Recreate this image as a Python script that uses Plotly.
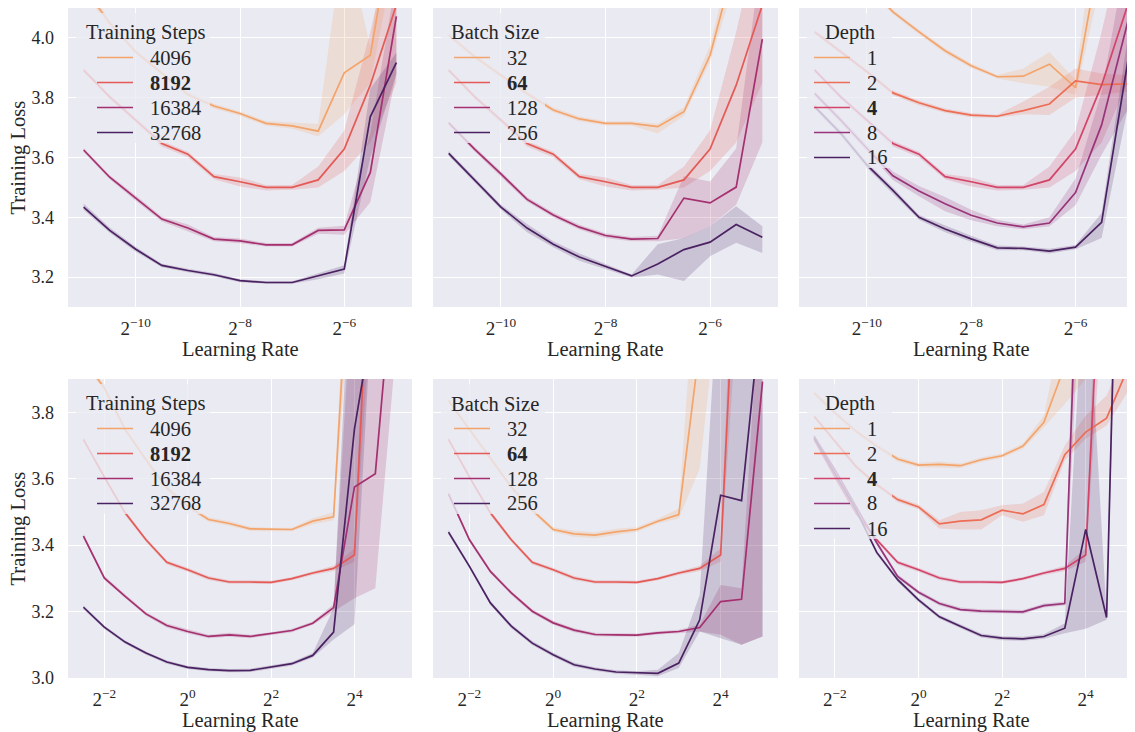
import math
import plotly.graph_objects as go

# ---------------- data ----------------
top_exp = [-11, -10.5, -10, -9.5, -9, -8.5, -8, -7.5, -7, -6.5, -6, -5.5, -5]
bot_exp = [-2.5, -2, -1.5, -1, -0.5, 0, 0.5, 1, 1.5, 2, 2.5, 3, 3.5, 4, 4.5, 5]

top_xticks = [-10, -8, -6]
bot_xticks = [-2, 0, 2, 4]
top_yticks = [3.2, 3.4, 3.6, 3.8, 4.0]
bot_yticks = [3.0, 3.2, 3.4, 3.6, 3.8]

# --- top row: Training Steps ---
ts4096_y = [4.17, 4.05, 3.953, 3.881, 3.811, 3.772, 3.747, 3.714, 3.706, 3.688, 3.883, 3.942, 4.45]
ts4096_lo = [4.15, 4.04, 3.945, 3.873, 3.803, 3.764, 3.740, 3.706, 3.696, 3.670, 3.745, 3.850, 4.30]
ts4096_hi = [4.19, 4.06, 3.961, 3.889, 3.819, 3.780, 3.754, 3.722, 3.716, 3.712, 4.350, 3.970, 4.60]

ts8192_y = [3.892, 3.803, 3.725, 3.647, 3.611, 3.536, 3.519, 3.500, 3.500, 3.525, 3.628, 3.842, 4.11]
ts8192_lo = [3.885, 3.795, 3.717, 3.637, 3.601, 3.527, 3.503, 3.490, 3.492, 3.500, 3.555, 3.650, 3.85]
ts8192_hi = [3.899, 3.811, 3.733, 3.655, 3.619, 3.545, 3.533, 3.508, 3.508, 3.570, 3.690, 4.020, 4.40]

ts16384_y = [3.625, 3.534, 3.464, 3.394, 3.364, 3.327, 3.321, 3.308, 3.308, 3.356, 3.358, 3.550, 4.072]
ts16384_lo = [3.618, 3.527, 3.455, 3.386, 3.352, 3.320, 3.313, 3.302, 3.302, 3.345, 3.342, 3.450, 3.88]
ts16384_hi = [3.632, 3.541, 3.473, 3.402, 3.376, 3.334, 3.329, 3.314, 3.314, 3.365, 3.372, 3.680, 4.20]

ts32768_y = [3.434, 3.356, 3.293, 3.239, 3.222, 3.208, 3.188, 3.182, 3.182, 3.204, 3.227, 3.736, 3.917]
ts32768_lo = [3.424, 3.348, 3.285, 3.233, 3.216, 3.202, 3.183, 3.178, 3.178, 3.193, 3.212, 3.600, 3.88]
ts32768_hi = [3.446, 3.366, 3.301, 3.245, 3.228, 3.214, 3.193, 3.186, 3.186, 3.214, 3.240, 3.830, 3.95]

# --- top row: Batch Size ---
bs32_y = [4.009, 3.937, 3.875, 3.814, 3.759, 3.729, 3.714, 3.714, 3.703, 3.753, 3.942, 4.276, 4.60]
bs32_lo = [4.000, 3.930, 3.867, 3.806, 3.751, 3.721, 3.707, 3.707, 3.680, 3.740, 3.920, 4.200, 4.50]
bs32_hi = [4.018, 3.944, 3.883, 3.822, 3.767, 3.737, 3.721, 3.721, 3.713, 3.768, 3.975, 4.350, 4.70]

bs128_y = [3.716, 3.627, 3.545, 3.460, 3.408, 3.367, 3.339, 3.327, 3.329, 3.464, 3.448, 3.501, 3.996]
bs128_lo = [3.709, 3.619, 3.537, 3.452, 3.400, 3.359, 3.331, 3.320, 3.320, 3.330, 3.370, 3.442, 3.65]
bs128_hi = [3.723, 3.635, 3.553, 3.468, 3.416, 3.375, 3.347, 3.334, 3.338, 3.537, 3.520, 3.630, 4.30]

bs256_y = [3.614, 3.525, 3.434, 3.364, 3.310, 3.267, 3.236, 3.204, 3.244, 3.292, 3.317, 3.376, 3.333]
bs256_lo = [3.606, 3.517, 3.426, 3.350, 3.300, 3.255, 3.228, 3.199, 3.209, 3.187, 3.270, 3.315, 3.281]
bs256_hi = [3.622, 3.533, 3.442, 3.378, 3.320, 3.279, 3.244, 3.209, 3.310, 3.331, 3.370, 3.437, 3.370]

# --- top row: Depth ---
d1_y = [4.45, 4.30, 4.18, 4.087, 4.020, 3.957, 3.907, 3.870, 3.872, 3.912, 3.834, 4.379, 4.80]
d1_lo = [4.44, 4.29, 4.17, 4.079, 4.012, 3.949, 3.899, 3.864, 3.848, 3.837, 3.809, 4.200, 4.60]
d1_hi = [4.46, 4.31, 4.19, 4.095, 4.028, 3.965, 3.915, 3.876, 3.898, 3.953, 3.859, 4.550, 5.00]

d2_y = [4.020, 3.953, 3.887, 3.816, 3.783, 3.757, 3.742, 3.738, 3.757, 3.779, 3.856, 3.844, 3.846]
d2_lo = [4.012, 3.945, 3.879, 3.808, 3.775, 3.750, 3.735, 3.733, 3.745, 3.742, 3.800, 3.809, 3.820]
d2_hi = [4.028, 3.961, 3.895, 3.824, 3.791, 3.764, 3.749, 3.743, 3.787, 3.837, 3.898, 3.881, 3.876]

d8_y = [3.814, 3.725, 3.631, 3.539, 3.488, 3.445, 3.407, 3.381, 3.368, 3.381, 3.483, 3.709, 4.053]
d8_lo = [3.805, 3.715, 3.620, 3.525, 3.470, 3.420, 3.390, 3.370, 3.360, 3.370, 3.440, 3.609, 3.76]
d8_hi = [3.823, 3.735, 3.642, 3.553, 3.505, 3.468, 3.425, 3.392, 3.376, 3.400, 3.530, 3.820, 4.30]

d16_y = [3.770, 3.681, 3.575, 3.490, 3.400, 3.361, 3.328, 3.298, 3.296, 3.287, 3.300, 3.383, 3.920]
d16_lo = [3.762, 3.672, 3.566, 3.480, 3.392, 3.350, 3.318, 3.290, 3.290, 3.279, 3.293, 3.331, 3.764]
d16_hi = [3.778, 3.690, 3.584, 3.500, 3.408, 3.372, 3.338, 3.306, 3.302, 3.295, 3.307, 3.414, 4.000]

# --- bottom row: Training Steps ---
tsb4096_y = [3.960, 3.873, 3.748, 3.657, 3.572, 3.517, 3.477, 3.465, 3.449, 3.447, 3.447, 3.472, 3.485, 4.56, 5.00, 5.40]
tsb4096_lo = [3.950, 3.865, 3.740, 3.650, 3.565, 3.510, 3.470, 3.458, 3.443, 3.442, 3.442, 3.463, 3.475, 4.30, 4.80, 5.20]
tsb4096_hi = [3.970, 3.881, 3.756, 3.664, 3.579, 3.524, 3.484, 3.472, 3.455, 3.452, 3.452, 3.481, 3.500, 4.80, 5.20, 5.60]

tsb8192_y = [3.718, 3.605, 3.497, 3.416, 3.348, 3.326, 3.301, 3.289, 3.289, 3.288, 3.299, 3.316, 3.330, 3.370, 4.67, 5.20]
tsb8192_lo = [3.712, 3.599, 3.490, 3.410, 3.342, 3.320, 3.295, 3.284, 3.284, 3.283, 3.294, 3.310, 3.322, 3.350, 4.30, 4.80]
tsb8192_hi = [3.724, 3.611, 3.504, 3.422, 3.354, 3.332, 3.307, 3.294, 3.294, 3.293, 3.304, 3.322, 3.338, 3.390, 5.00, 5.60]

tsb16384_y = [3.427, 3.301, 3.246, 3.193, 3.158, 3.140, 3.125, 3.130, 3.125, 3.133, 3.143, 3.165, 3.212, 3.575, 3.615, 4.33]
tsb16384_lo = [3.420, 3.295, 3.240, 3.187, 3.152, 3.134, 3.120, 3.124, 3.120, 3.128, 3.138, 3.160, 3.200, 3.240, 3.270, 4.00]
tsb16384_hi = [3.434, 3.307, 3.252, 3.199, 3.164, 3.146, 3.130, 3.136, 3.130, 3.138, 3.148, 3.170, 3.222, 4.300, 4.500, 4.80]

tsb32768_y = [3.213, 3.153, 3.108, 3.075, 3.048, 3.032, 3.025, 3.022, 3.023, 3.032, 3.043, 3.068, 3.138, 3.750, 4.17, 4.50]
tsb32768_lo = [3.207, 3.148, 3.103, 3.070, 3.043, 3.027, 3.020, 3.017, 3.018, 3.027, 3.038, 3.062, 3.116, 3.162, 4.30, 4.40]
tsb32768_hi = [3.219, 3.158, 3.113, 3.080, 3.053, 3.037, 3.030, 3.027, 3.028, 3.037, 3.048, 3.075, 3.210, 4.500, 4.60, 4.80]

# --- bottom row: Batch Size ---
bsb32_y = [3.835, 3.749, 3.662, 3.575, 3.505, 3.447, 3.434, 3.430, 3.440, 3.447, 3.472, 3.492, 4.00, 4.50, 5.00, 5.50]
bsb32_lo = [3.828, 3.742, 3.655, 3.568, 3.498, 3.440, 3.425, 3.421, 3.431, 3.440, 3.465, 3.480, 3.63, 4.20, 4.80, 5.30]
bsb32_hi = [3.842, 3.756, 3.669, 3.582, 3.512, 3.454, 3.443, 3.439, 3.449, 3.454, 3.479, 3.510, 4.40, 4.80, 5.20, 5.70]

bsb128_y = [3.554, 3.416, 3.321, 3.256, 3.201, 3.166, 3.144, 3.131, 3.130, 3.129, 3.136, 3.140, 3.152, 3.230, 3.237, 3.892]
bsb128_lo = [3.547, 3.410, 3.315, 3.250, 3.195, 3.160, 3.138, 3.126, 3.125, 3.124, 3.131, 3.135, 3.140, 3.130, 3.100, 3.125]
bsb128_hi = [3.561, 3.422, 3.327, 3.262, 3.207, 3.172, 3.150, 3.136, 3.135, 3.134, 3.141, 3.145, 3.160, 3.280, 3.270, 4.300]

bsb256_y = [3.439, 3.336, 3.226, 3.156, 3.105, 3.070, 3.040, 3.027, 3.018, 3.015, 3.014, 3.045, 3.175, 3.550, 3.534, 4.15]
bsb256_lo = [3.432, 3.330, 3.220, 3.150, 3.099, 3.064, 3.034, 3.022, 3.013, 3.010, 3.005, 3.030, 3.140, 3.120, 3.100, 3.125]
bsb256_hi = [3.446, 3.342, 3.232, 3.162, 3.111, 3.076, 3.046, 3.032, 3.023, 3.020, 3.025, 3.075, 3.250, 4.300, 4.600, 5.000]

# --- bottom row: Depth ---
db1_y = [3.858, 3.798, 3.743, 3.698, 3.659, 3.641, 3.643, 3.639, 3.657, 3.669, 3.698, 3.770, 3.940, 4.20, 4.50, 4.80]
db1_lo = [3.851, 3.791, 3.736, 3.691, 3.652, 3.634, 3.634, 3.632, 3.650, 3.662, 3.690, 3.755, 3.825, 3.90, 4.10, 4.40]
db1_hi = [3.865, 3.805, 3.750, 3.705, 3.666, 3.648, 3.652, 3.646, 3.664, 3.676, 3.706, 3.790, 4.100, 4.50, 4.80, 5.10]

db2_y = [3.788, 3.713, 3.637, 3.582, 3.537, 3.515, 3.464, 3.472, 3.476, 3.505, 3.494, 3.522, 3.672, 3.740, 3.782, 3.930]
db2_lo = [3.781, 3.706, 3.630, 3.575, 3.530, 3.508, 3.450, 3.447, 3.447, 3.490, 3.470, 3.490, 3.655, 3.720, 3.760, 3.860]
db2_hi = [3.795, 3.720, 3.644, 3.589, 3.544, 3.522, 3.475, 3.500, 3.505, 3.520, 3.525, 3.560, 3.700, 3.790, 3.850, 4.000]

db8_y = [3.728, 3.627, 3.517, 3.407, 3.306, 3.258, 3.224, 3.206, 3.201, 3.201, 3.199, 3.218, 3.224, 4.98, 5.50, 6.00]
db8_lo = [3.722, 3.621, 3.511, 3.401, 3.300, 3.252, 3.218, 3.200, 3.195, 3.195, 3.193, 3.212, 3.218, 4.50, 5.20, 5.70]
db8_hi = [3.734, 3.633, 3.523, 3.413, 3.312, 3.264, 3.230, 3.212, 3.207, 3.207, 3.205, 3.224, 3.230, 5.40, 5.80, 6.30]

db16_y = [3.723, 3.617, 3.507, 3.378, 3.296, 3.235, 3.184, 3.156, 3.128, 3.120, 3.118, 3.125, 3.150, 3.447, 3.182, 5.66]
db16_lo = [3.717, 3.611, 3.501, 3.372, 3.290, 3.229, 3.178, 3.150, 3.122, 3.114, 3.112, 3.118, 3.135, 3.148, 3.175, 5.30]
db16_hi = [3.729, 3.623, 3.513, 3.384, 3.302, 3.241, 3.190, 3.162, 3.134, 3.126, 3.124, 3.132, 3.165, 4.300, 3.190, 6.00]

# ---------------- style ----------------
C_ORANGE = "#F3A46B"
C_RED = "#E35A56"
C_MAGENTA = "#A4306F"
C_DARK = "#4A2262"
C_D2 = "#EC6E56"
C_D4 = "#D24468"
C_D8 = "#983479"

FONT = "Liberation Serif, Times New Roman, serif"
TXT = "#262626"
W, H = 1135, 732
OFF = 8  # page body margin of the browser
TSIZE = 20.5

# panel boxes in window pixels
col_px = [(68, 412), (433, 778), (799, 1135)]
row_px = [(8, 307), (379, 678)]
top_xrange = [(-11.3, -4.7), (-11.3, -4.7), (-11.3, -4.86)]
bot_xrange = [(-2.87, 5.38), (-2.87, 5.37), (-2.86, 5.18)]

# legend geometry (panel-relative px): box right, handle x0, text x, title x
legend_geom = {
    "Training Steps": dict(box_r=142, h0=29, tx=80, ttl=16),
    "Batch Size": dict(box_r=112, h0=21, tx=72, ttl=16),
    "Depth": dict(box_r=93, h0=15, tx=66, ttl=24),
}


def rgba(hexc, a):
    hexc = hexc.lstrip("#")
    r, g, b = int(hexc[0:2], 16), int(hexc[2:4], 16), int(hexc[4:6], 16)
    return f"rgba({r},{g},{b},{a})"


def px(xw):
    return (xw - OFF) / W


def py(yw):
    return 1 - (yw - OFF) / H


panels = [
    ("Training Steps", top_exp, [
        ("4096", C_ORANGE, ts4096_y, ts4096_lo, ts4096_hi),
        ("<b>8192</b>", C_RED, ts8192_y, ts8192_lo, ts8192_hi),
        ("16384", C_MAGENTA, ts16384_y, ts16384_lo, ts16384_hi),
        ("32768", C_DARK, ts32768_y, ts32768_lo, ts32768_hi)]),
    ("Batch Size", top_exp, [
        ("32", C_ORANGE, bs32_y, bs32_lo, bs32_hi),
        ("<b>64</b>", C_RED, ts8192_y, ts8192_lo, ts8192_hi),
        ("128", C_MAGENTA, bs128_y, bs128_lo, bs128_hi),
        ("256", C_DARK, bs256_y, bs256_lo, bs256_hi)]),
    ("Depth", top_exp, [
        ("1", C_ORANGE, d1_y, d1_lo, d1_hi),
        ("2", C_D2, d2_y, d2_lo, d2_hi),
        ("<b>4</b>", C_D4, ts8192_y, ts8192_lo, ts8192_hi),
        ("8", C_D8, d8_y, d8_lo, d8_hi),
        ("16", C_DARK, d16_y, d16_lo, d16_hi)]),
    ("Training Steps", bot_exp, [
        ("4096", C_ORANGE, tsb4096_y, tsb4096_lo, tsb4096_hi),
        ("<b>8192</b>", C_RED, tsb8192_y, tsb8192_lo, tsb8192_hi),
        ("16384", C_MAGENTA, tsb16384_y, tsb16384_lo, tsb16384_hi),
        ("32768", C_DARK, tsb32768_y, tsb32768_lo, tsb32768_hi)]),
    ("Batch Size", bot_exp, [
        ("32", C_ORANGE, bsb32_y, bsb32_lo, bsb32_hi),
        ("<b>64</b>", C_RED, tsb8192_y, tsb8192_lo, tsb8192_hi),
        ("128", C_MAGENTA, bsb128_y, bsb128_lo, bsb128_hi),
        ("256", C_DARK, bsb256_y, bsb256_lo, bsb256_hi)]),
    ("Depth", bot_exp, [
        ("1", C_ORANGE, db1_y, db1_lo, db1_hi),
        ("2", C_D2, db2_y, db2_lo, db2_hi),
        ("<b>4</b>", C_D4, tsb8192_y, tsb8192_lo, tsb8192_hi),
        ("8", C_D8, db8_y, db8_lo, db8_hi),
        ("16", C_DARK, db16_y, db16_lo, db16_hi)]),
]

fig = go.Figure()
layout = dict(
    width=W, height=H,
    margin=dict(l=0, r=0, t=0, b=0),
    paper_bgcolor="white", plot_bgcolor="#EAEAF2",
    font=dict(family=FONT, size=18, color=TXT),
    showlegend=False,
    annotations=[], shapes=[],
)
L2 = math.log10(2)

for k, (title, exps, series) in enumerate(panels):
    idx = k + 1
    row, col = divmod(k, 3)
    xs = [2 ** e for e in exps]
    xa = "x" if idx == 1 else f"x{idx}"
    ya = "y" if idx == 1 else f"y{idx}"
    # confidence bands first (below all lines)
    for name, c, y, lo, hi in series:
        fig.add_trace(go.Scatter(
            x=xs + xs[::-1], y=hi + lo[::-1], fill="toself",
            fillcolor=rgba(c, 0.2), line=dict(width=0), mode="lines",
            hoverinfo="skip", showlegend=False, xaxis=xa, yaxis=ya))
    for name, c, y, lo, hi in series:
        fig.add_trace(go.Scatter(
            x=xs, y=y, mode="lines", name=name,
            line=dict(color=c, width=1.7), xaxis=xa, yaxis=ya))

    x0, x1 = col_px[col]
    y0, y1 = row_px[row]
    xr = top_xrange[col] if row == 0 else bot_xrange[col]
    xt = top_xticks if row == 0 else bot_xticks
    yt = top_yticks if row == 0 else bot_yticks
    yr = [3.1, 4.1] if row == 0 else [3.0, 3.9]
    layout["xaxis" if idx == 1 else f"xaxis{idx}"] = dict(
        type="log", domain=[px(x0), min(1.0, px(x1))], anchor=ya,
        range=[xr[0] * L2, xr[1] * L2],
        tickvals=[2 ** t for t in xt],
        ticktext=[f"2<sup>{'−' if t < 0 else ''}{abs(t)}</sup>" for t in xt],
        showgrid=True, gridcolor="white", gridwidth=1.3,
        zeroline=False, showline=False, ticks="", automargin=False,
        tickfont=dict(family=FONT, size=19, color=TXT), ticklabelstandoff=8)
    layout["yaxis" if idx == 1 else f"yaxis{idx}"] = dict(
        domain=[py(y1), py(y0)], anchor=xa, range=yr,
        tickvals=yt, ticktext=[f"{v:.1f}" for v in yt],
        showticklabels=(col == 0),
        showgrid=True, gridcolor="white", gridwidth=1.3,
        zeroline=False, showline=False, ticks="", automargin=False,
        tickfont=dict(family=FONT, size=18, color=TXT), ticklabelstandoff=13)

    # ---- legend (box, handles, labels) ----
    g = legend_geom[title]
    n = len(series)
    layout["shapes"].append(dict(
        type="rect", xref="paper", yref="paper", layer="above",
        x0=px(x0 + 8), x1=px(x0 + g["box_r"]),
        y0=py(y0 + 10 + 25 * n + 25), y1=py(y0 + 5),
        fillcolor="rgba(234,234,242,0.8)", line=dict(width=0)))
    layout["annotations"].append(dict(
        text=title, x=px(x0 + g["ttl"]), y=py(y0 + 24.5), xref="paper", yref="paper",
        xanchor="left", yanchor="middle", showarrow=False,
        font=dict(family=FONT, size=TSIZE, color=TXT)))
    for i, (name, c, y, lo, hi) in enumerate(series):
        ey = y0 + 49.5 + 25 * i
        layout["shapes"].append(dict(
            type="line", xref="paper", yref="paper", layer="above",
            x0=px(x0 + g["h0"]), x1=px(x0 + g["h0"] + 36), y0=py(ey), y1=py(ey),
            line=dict(color=c, width=1.7)))
        layout["annotations"].append(dict(
            text=name, x=px(x0 + g["tx"]), y=py(ey), xref="paper", yref="paper",
            xanchor="left", yanchor="middle", showarrow=False,
            font=dict(family=FONT, size=TSIZE, color=TXT)))

    layout["annotations"].append(dict(
        text="Learning Rate", x=px(x0 + 172), y=py(y1 + 42),
        xref="paper", yref="paper", xanchor="center", yanchor="middle",
        showarrow=False, font=dict(family=FONT, size=TSIZE, color=TXT)))
    if col == 0:
        layout["annotations"].append(dict(
            text="Training Loss", x=px(18), y=py((y0 + y1) / 2),
            xref="paper", yref="paper", xanchor="center", yanchor="middle",
            textangle=-90, showarrow=False,
            font=dict(family=FONT, size=TSIZE, color=TXT)))

fig.update_layout(**layout)
fig.write_html("out.html")
